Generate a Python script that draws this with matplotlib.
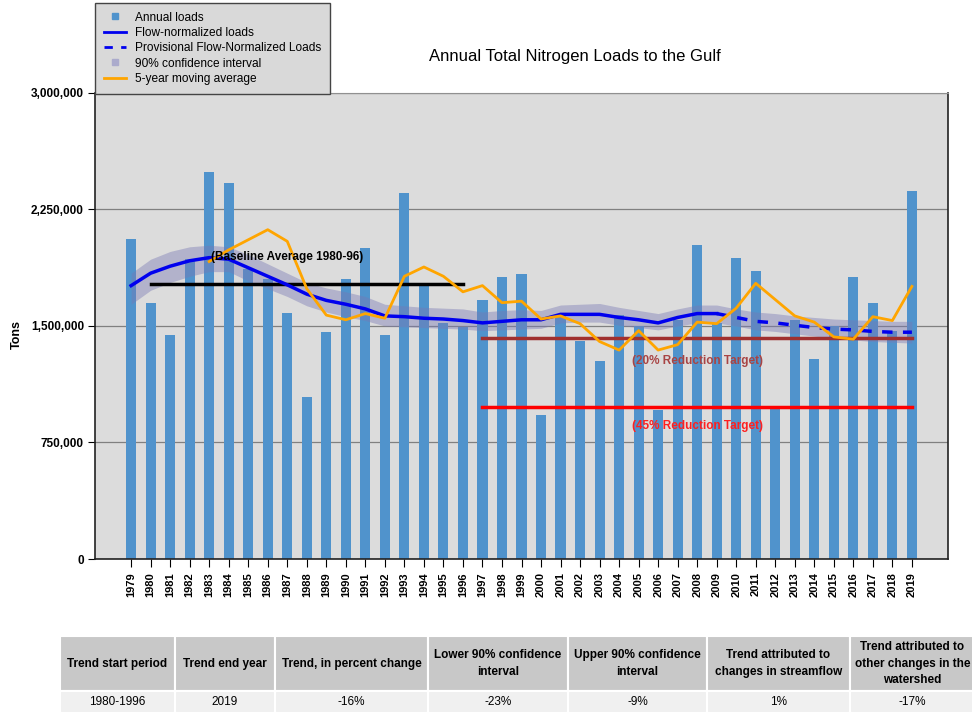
import matplotlib
matplotlib.use("Agg")
import matplotlib.pyplot as plt
from matplotlib.lines import Line2D
from matplotlib.patches import Rectangle
import numpy as np

plt.rcParams['font.family'] = ['Liberation Sans', 'DejaVu Sans']

# data (tons)
years = list(range(1979, 2020))

annual_loads = [2060000, 1645000, 1440000, 1930000, 2490000, 2420000, 1870000, 1800000,
                1585000, 1045000, 1460000, 1800000, 2005000, 1440000, 2355000, 1765000,
                1520000, 1495000, 1665000, 1815000, 1835000, 930000, 1580000, 1405000,
                1275000, 1570000, 1500000, 960000, 1540000, 2020000, 1520000, 1940000,
                1855000, 970000, 1540000, 1290000, 1500000, 1815000, 1645000, 1470000,
                2370000]

flow_normalized = [1760000, 1840000, 1885000, 1920000, 1940000, 1930000, 1875000, 1820000,
                   1765000, 1705000, 1665000, 1640000, 1610000, 1565000, 1560000, 1550000,
                   1545000, 1535000, 1520000, 1530000, 1540000, 1540000, 1575000, 1575000,
                   1575000, 1555000, 1540000, 1520000, 1555000, 1580000, 1580000, 1555000,
                   1530000, 1520000, 1505000, 1490000, 1480000, 1475000, 1465000, 1460000,
                   1460000]

ci_lower = [1640000, 1730000, 1780000, 1820000, 1850000, 1850000, 1790000, 1740000,
            1690000, 1630000, 1590000, 1560000, 1535000, 1500000, 1495000, 1490000,
            1485000, 1480000, 1470000, 1475000, 1480000, 1485000, 1520000, 1525000,
            1525000, 1505000, 1490000, 1475000, 1500000, 1520000, 1520000, 1500000,
            1475000, 1465000, 1450000, 1435000, 1420000, 1410000, 1400000, 1395000,
            1390000]

ci_upper = [1840000, 1930000, 1980000, 2010000, 2020000, 2010000, 1960000, 1900000,
            1840000, 1780000, 1745000, 1720000, 1690000, 1640000, 1630000, 1620000,
            1615000, 1610000, 1590000, 1600000, 1605000, 1600000, 1635000, 1640000,
            1645000, 1620000, 1600000, 1580000, 1610000, 1635000, 1635000, 1610000,
            1590000, 1580000, 1565000, 1555000, 1545000, 1540000, 1535000, 1530000,
            1530000]

ma_years = list(range(1983, 2020))
moving_avg = [1915000, 1990000, 2055000, 2120000, 2045000, 1740000, 1570000, 1540000,
              1580000, 1550000, 1820000, 1880000, 1820000, 1720000, 1760000, 1650000,
              1660000, 1545000, 1565000, 1515000, 1400000, 1345000, 1470000, 1345000,
              1380000, 1525000, 1515000, 1615000, 1775000, 1670000, 1565000, 1525000,
              1430000, 1415000, 1560000, 1535000, 1755000]

provisional_start = 2009   # flow-normalized dashed from here on

baseline_years = [1980, 1996]
baseline_avg = 1773000
target_years = [1997, 2019]
target_20 = 1420000
target_45 = 976000

yticks = [0, 750000, 1500000, 2250000, 3000000]

table_header = ["Trend start period", "Trend end year", "Trend, in percent change",
                "Lower 90% confidence\ninterval", "Upper 90% confidence\ninterval",
                "Trend attributed to\nchanges in streamflow",
                "Trend attributed to\nother changes in the\nwatershed"]
table_row = ["1980-1996", "2019", "-16%", "-23%", "-9%", "1%", "-17%"]
col_edges = [60, 175, 275, 428, 568, 707, 850, 975]

bar_color = '#5093cc'
band_color = '#7878b4'

W, H = 972, 713
fig = plt.figure(figsize=(W / 100, H / 100), dpi=100)
ax = fig.add_axes([95 / W, 1 - 559 / H, (948 - 95) / W, (559 - 93) / H])
ax.set_facecolor('#dcdcdc')

ax.bar(years, annual_loads, width=0.52, color=bar_color, zorder=2)
ax.fill_between(years, ci_lower, ci_upper, color=band_color, alpha=0.42, linewidth=0, zorder=3)

ax.plot(baseline_years, [baseline_avg] * 2, color='black', lw=2.5, zorder=4)
ax.plot(target_years, [target_20] * 2, color='#a0302f', lw=2.5, zorder=4)
ax.plot(target_years, [target_45] * 2, color='#ff0000', lw=2.5, zorder=4)

yrs = np.array(years)
fn = np.array(flow_normalized)
solid = yrs <= provisional_start
dashed = yrs >= provisional_start
ax.plot(yrs[solid], fn[solid], color='#0000ee', lw=2.5, zorder=5)
ax.plot(yrs[dashed], fn[dashed], color='#0000ee', lw=2.5, dashes=(3, 3), zorder=5)

ax.plot(ma_years, moving_avg, color='#ffa500', lw=2, zorder=6)

ax.text(1987, 1946000, "(Baseline Average 1980-96)", ha='center', va='center',
        fontsize=8.5, fontweight='bold', color='black', zorder=7)
ax.text(2008, 1275000, "(20% Reduction Target)", ha='center', va='center',
        fontsize=8.5, fontweight='bold', color='#a84444', zorder=7)
ax.text(2008, 856000, "(45% Reduction Target)", ha='center', va='center',
        fontsize=8.5, fontweight='bold', color='#ff2020', zorder=7)

ax.set_xlim(1977.15, 2020.85)
ax.set_ylim(0, 3000000)
ax.set_yticks(yticks)
ax.set_yticklabels([f"{v:,}" for v in yticks], fontsize=8.5, fontweight='bold')
ax.set_xticks(years)
ax.set_xticklabels([str(y) for y in years], rotation=90, fontsize=8, fontweight='bold')
ax.tick_params(axis='x', length=6, width=0.8, pad=3.5)
ax.tick_params(axis='y', length=5, width=0.8, pad=3)
ax.grid(axis='y', color='#808080', lw=0.9, zorder=1)
ax.set_axisbelow(True)
for side in ['left', 'right', 'bottom']:
    ax.spines[side].set_color('#222222')
    ax.spines[side].set_linewidth(1.2)
ax.spines['top'].set_color('#909090')

fig.text(17 / W, 1 - 335 / H, "Tons", rotation=90, ha='center', va='center',
         fontsize=9, fontweight='bold')
fig.text(575 / W, 1 - 56 / H, "Annual Total Nitrogen Loads to the Gulf",
         ha='center', va='center', fontsize=12)

handles = [
    Line2D([], [], marker='s', linestyle='none', color=bar_color, markersize=5),
    Line2D([], [], color='#0000ee', lw=2),
    Line2D([], [], color='#0000ee', lw=2, dashes=(3, 3)),
    Line2D([], [], marker='s', linestyle='none', color='#ababcc', markersize=5),
    Line2D([], [], color='#ffa500', lw=2),
]
labels = ["Annual loads", "Flow-normalized loads", "Provisional Flow-Normalized Loads",
          "90% confidence interval", "5-year moving average"]
leg = fig.legend(handles, labels, loc='upper left', bbox_to_anchor=(95 / W, 1 - 3 / H),
                 fontsize=8.6, frameon=True, fancybox=False, handlelength=1.9,
                 handletextpad=0.7, labelspacing=0.28, borderpad=0.72, borderaxespad=0)
leg.get_frame().set_facecolor('#d9d9d9')
leg.get_frame().set_edgecolor('#444444')
leg.get_frame().set_alpha(1)

# trend table under the chart
narrow = ['Liberation Sans Narrow', 'Liberation Sans', 'DejaVu Sans']
head_top, head_bot, row_bot = 636, 691, 713
for i in range(len(table_header)):
    x0, x1 = col_edges[i], col_edges[i + 1]
    fig.patches.append(Rectangle((x0 / W, 1 - head_bot / H), (x1 - x0) / W,
                                 (head_bot - head_top) / H, transform=fig.transFigure,
                                 facecolor='#c8c8c8', edgecolor='white', lw=1.5))
    fig.patches.append(Rectangle((x0 / W, 1 - row_bot / H), (x1 - x0) / W,
                                 (row_bot - head_bot) / H, transform=fig.transFigure,
                                 facecolor='#f0f0f0', edgecolor='white', lw=1.5))
    xc = (x0 + x1) / 2 / W
    fig.text(xc, 1 - (head_top + head_bot) / 2 / H, table_header[i], ha='center',
             va='center', fontsize=8.5, fontweight='bold', family=narrow, linespacing=1.5)
    fig.text(xc, 1 - (head_bot + row_bot) / 2 / H, table_row[i], ha='center',
             va='center', fontsize=8.5, family=narrow)

fig.savefig("out.png", dpi=100)
